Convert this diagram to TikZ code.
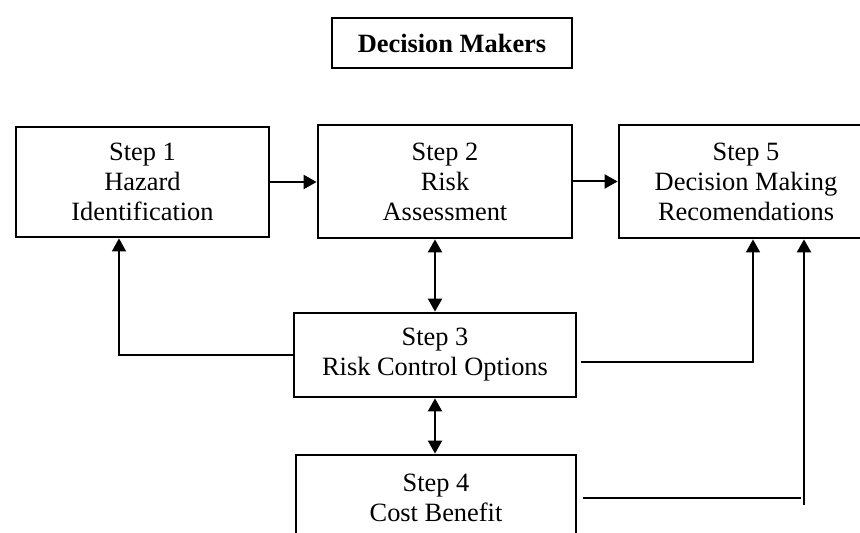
\documentclass[tikz,border=0pt]{standalone}
\usepackage{fontspec}
\setmainfont{Liberation Serif}
\usetikzlibrary{arrows.meta,positioning}

\begin{document}
\begin{tikzpicture}[x=0.5pt,y=-0.5pt,
    stepbox/.style={draw,line width=1.4pt,align=center,inner sep=0pt,
      minimum width=127pt,font=\fontsize{13.2}{15}\selectfont},
    link/.style={line width=1pt,-{Triangle[length=6.5pt,width=7pt]}},
    twoway/.style={line width=1pt,{Triangle[length=6.5pt,width=7pt]}-{Triangle[length=6.5pt,width=7pt]}}]
        \useasboundingbox (0,0) rectangle (860,533);
        %boxes
        \node[stepbox,font=\fontsize{13.2}{15}\selectfont\bfseries,minimum width=120pt,minimum height=25pt] (dm) at (452,43) {Decision Makers};
        \node[stepbox,minimum width=126.5pt,minimum height=55pt] (s1) at (142.5,182) {Step 1\\Hazard\\Identification};
        \node[stepbox,minimum height=56.5pt] (s2) at (445,181.5) {Step 2\\Risk\\Assessment};
        \node[stepbox,minimum height=56.5pt] (s5) at (746,181.5) {Step 5\\Decision Making\\Recomendations};
        \node[stepbox,minimum width=141pt,minimum height=42pt] (s3) at (435,355) {Step 3\\Risk Control Options};
        \node[stepbox,minimum width=140pt,minimum height=43pt] (s4) at (436,498) {Step 4\\Cost Benefit};

        %free ends
        \coordinate (b4) at (801,498);
        \coordinate (b5) at (804,505);

        %links
        \draw[link] (s1.east) -- (s1.east -| s2.west);
        \draw[link] (s2.east) -- (s2.east -| s5.west);
        \draw[twoway] (s3.north) -- (s3.north |- s2.south);
        \draw[twoway] (s3.south) -- (s3.south |- s4.north);
        \draw[link,line width=0.75pt] (s3.west) -| ([xshift=-11.75pt]s1.south);
        \draw[link,line width=0.75pt] ([shift={(2pt,-3.5pt)}]s3.east) -| ([xshift=3.5pt]s5.south);
        \draw[line width=1.4pt] ([xshift=3pt]s4.east) -- (b4);
        \draw[link,line width=1.2pt] (b5) -- (b5 |- s5.south);
\end{tikzpicture}
\end{document}
